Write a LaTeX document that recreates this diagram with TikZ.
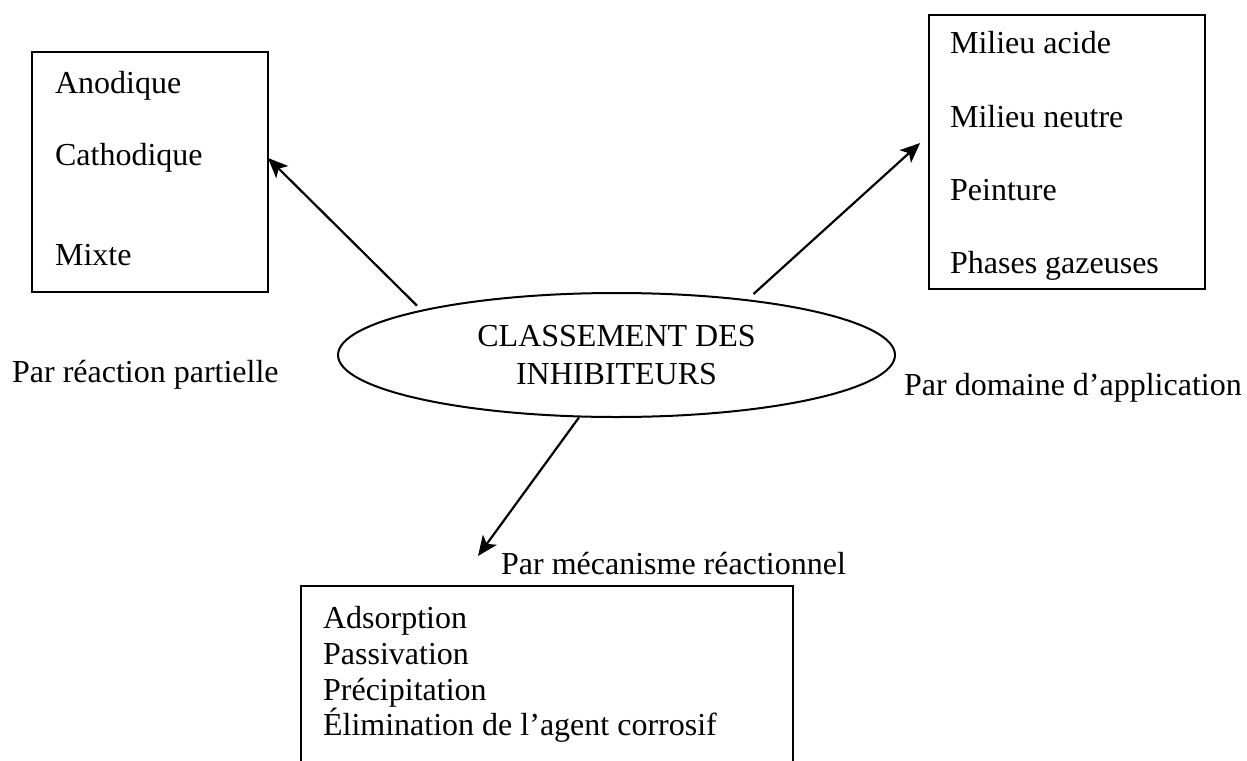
\documentclass[tikz,border=0pt]{standalone}
\usepackage{fontspec}
\setmainfont{Liberation Serif}
\usetikzlibrary{shapes,arrows,arrows.meta,positioning}

\begin{document}
\begin{tikzpicture}[x=0.5pt,y=-0.5pt,>={Stealth[length=10pt,width=8.5pt,inset=2.5pt]},line width=1.1pt,font=\fontsize{16}{19}\selectfont,
  box node/.style={draw,rectangle,line width=1pt,inner sep=0pt,outer sep=0pt},
  item/.style={anchor=base west,inner sep=0pt},
  main node/.style={draw,ellipse,line width=1pt,inner sep=0pt,minimum width=278.5pt,minimum height=62pt,align=center}]
  \clip (0,0) rectangle (1247,760);
  % boxes
  \node[box node,minimum width=118pt,minimum height=120pt] (lbox) at (150,172) {};
  \node[box node,minimum width=138pt,minimum height=137pt] (rbox) at (1067,152) {};
  \node[box node,minimum width=246pt,minimum height=107pt] (bbox) at (547,693) {};
  \node[item] (anod) at (54,93) {Anodique};
  \node[item] (cath) at (54,165) {Cathodique};
  \node[item] (mixt) at (54,265) {Mixte};
  \node[item] (acid) at (949,54) {Milieu acide};
  \node[item] (neut) at (949,127) {Milieu neutre};
  \node[item] (pein) at (949,200) {Peinture};
  \node[item] (gaz) at (949,273) {Phases gazeuses};
  \node[item] (ads) at (322,628) {Adsorption};
  \node[item] (pass) at (322,664) {Passivation};
  \node[item] (prec) at (322,700) {Précipitation};
  \node[item] (elim) at (322,735) {Élimination de l’agent corrosif};
  % centre
  \node[main node] (ell) at (616.5,355) {CLASSEMENT DES\\INHIBITEURS};
  \node[item] (partial) at (11,382) {Par réaction partielle};
  \node[item] (domain) at (903,395) {Par domaine d’application};
  \node[item] (mech) at (500,574) {Par mécanisme réactionnel};
  \path[->]
  (ell.167) edge[shorten <=3pt] ([yshift=7pt]lbox.east)
  (ell.23) edge[shorten <=4pt,shorten >=6pt] ([yshift=8.5pt]rbox.west)
  (ell.239) edge ([xshift=88.5pt,yshift=15pt]bbox.north west);
\end{tikzpicture}
\end{document}
